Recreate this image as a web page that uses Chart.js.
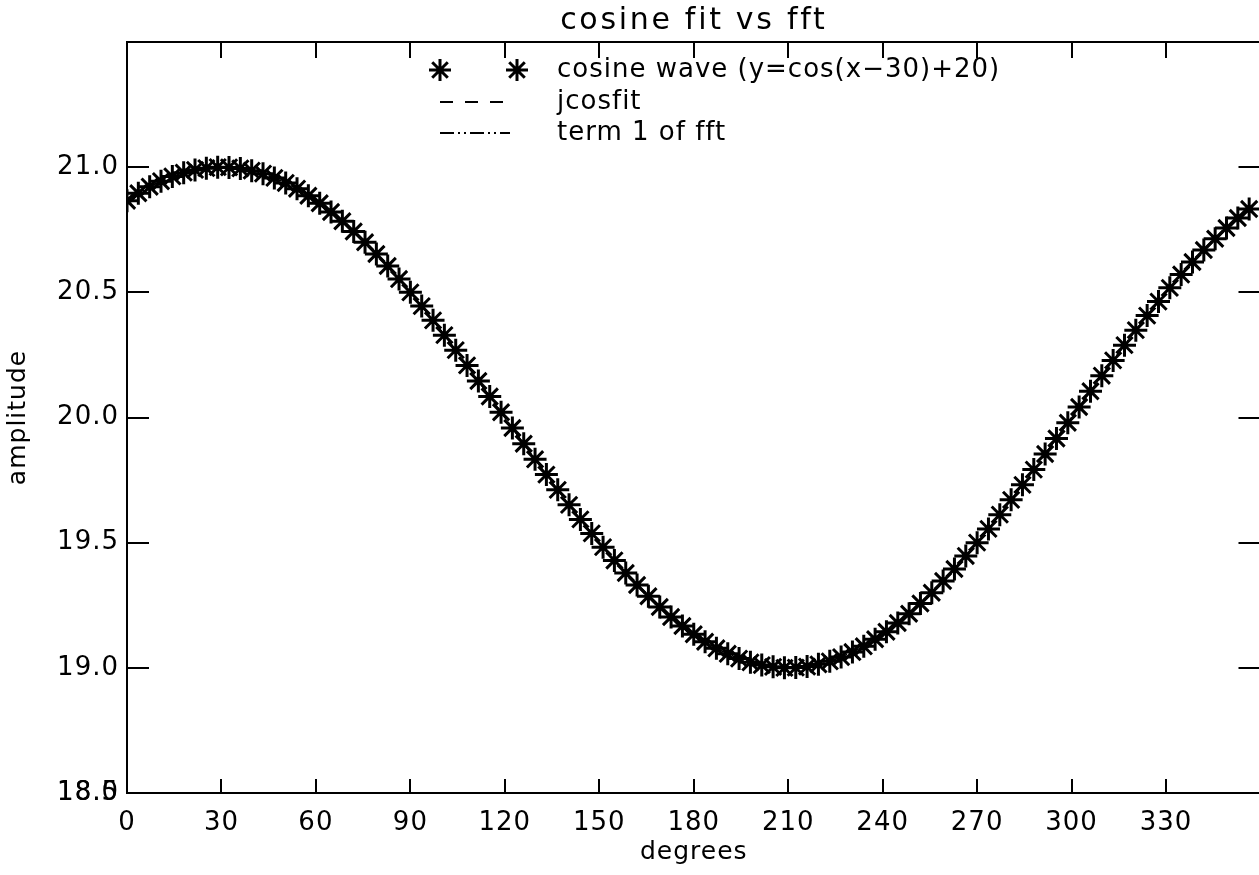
<!DOCTYPE html>
<html>
<head>
<meta charset="utf-8">
<title>cosine fit vs fft</title>
<script src="https://cdn.jsdelivr.net/npm/chart.js@4.4.1/dist/chart.umd.min.js"></script>
<style>
  html, body { margin: 0; padding: 0; background: #fff; overflow: hidden; }
  canvas { display: block; }
</style>
</head>
<body>
<canvas id="fitChart" width="1275" height="875"></canvas>
<script>
const chartTitle = 'cosine fit vs fft';
const xTitle = 'degrees';
const yTitle = 'amplitude';

// sample positions (degrees)
const degrees = [
  0, 3.6, 7.2, 10.8, 14.4, 18, 21.6, 25.2, 28.8, 32.4,
  36, 39.6, 43.2, 46.8, 50.4, 54, 57.6, 61.2, 64.8, 68.4,
  72, 75.6, 79.2, 82.8, 86.4, 90, 93.6, 97.2, 100.8, 104.4,
  108, 111.6, 115.2, 118.8, 122.4, 126, 129.6, 133.2, 136.8, 140.4,
  144, 147.6, 151.2, 154.8, 158.4, 162, 165.6, 169.2, 172.8, 176.4,
  180, 183.6, 187.2, 190.8, 194.4, 198, 201.6, 205.2, 208.8, 212.4,
  216, 219.6, 223.2, 226.8, 230.4, 234, 237.6, 241.2, 244.8, 248.4,
  252, 255.6, 259.2, 262.8, 266.4, 270, 273.6, 277.2, 280.8, 284.4,
  288, 291.6, 295.2, 298.8, 302.4, 306, 309.6, 313.2, 316.8, 320.4,
  324, 327.6, 331.2, 334.8, 338.4, 342, 345.6, 349.2, 352.8, 356.4
];

const amplitude = [
  20.866, 20.896, 20.922, 20.944, 20.963, 20.978, 20.989, 20.996, 21.000, 20.999,
  20.995, 20.986, 20.974, 20.957, 20.937, 20.914, 20.886, 20.856, 20.821, 20.784,
  20.743, 20.700, 20.653, 20.605, 20.553, 20.500, 20.445, 20.388, 20.329, 20.269,
  20.208, 20.146, 20.084, 20.021, 19.958, 19.895, 19.833, 19.772, 19.711, 19.651,
  19.593, 19.537, 19.482, 19.429, 19.379, 19.331, 19.286, 19.243, 19.203, 19.167,
  19.134, 19.104, 19.078, 19.056, 19.037, 19.022, 19.011, 19.004, 19.000, 19.001,
  19.005, 19.014, 19.026, 19.043, 19.063, 19.086, 19.114, 19.144, 19.179, 19.216,
  19.257, 19.300, 19.347, 19.395, 19.447, 19.500, 19.555, 19.612, 19.671, 19.731,
  19.792, 19.854, 19.916, 19.979, 20.042, 20.105, 20.167, 20.228, 20.289, 20.349,
  20.407, 20.463, 20.518, 20.571, 20.621, 20.669, 20.714, 20.757, 20.797, 20.833
];

// both fits lie on top of the samples
const jcosfit = amplitude;
const fftTerm1 = amplitude;

const seriesLabels = ['cosine wave (y=cos(x\u221230)+20)', 'jcosfit', 'term 1 of fft'];
const xTickValues = [0, 30, 60, 90, 120, 150, 180, 210, 240, 270, 300, 330];
const yTickValues = [18.5, 19.0, 19.5, 20.0, 20.5, 21.0];

const FONT = 'DejaVu Sans';
const dashStyle = [13, 12];
const dashDotDot = [14, 4, 2, 4, 2, 4];

function toPoints(ys) {
  return degrees.map((d, i) => ({ x: d, y: ys[i] }));
}

const spacingPlugin = {
  id: 'spacing',
  beforeUpdate(chart) { chart.ctx.letterSpacing = '1px'; },
  beforeDraw(chart) { chart.ctx.letterSpacing = '1px'; }
};

const idlFrame = {
  id: 'idlFrame',
  afterDraw(chart) {
    const { ctx, chartArea: a, scales } = chart;
    const x = scales.x, y = scales.y;
    ctx.save();
    ctx.strokeStyle = '#000';
    ctx.lineWidth = 2;
    ctx.setLineDash([]);
    ctx.strokeRect(a.left, a.top, a.right - a.left, a.bottom - a.top);

    // inward ticks on all four sides
    ctx.beginPath();
    xTickValues.forEach(v => {
      if (v === 0) return;
      const px = Math.round(x.getPixelForValue(v));
      ctx.moveTo(px, a.bottom); ctx.lineTo(px, a.bottom - 14);
      ctx.moveTo(px, a.top); ctx.lineTo(px, a.top + 16);
    });
    yTickValues.forEach(v => {
      if (v === 18.5) return;
      const py = Math.round(y.getPixelForValue(v));
      ctx.moveTo(a.left, py); ctx.lineTo(a.left + 22, py);
      ctx.moveTo(a.right, py); ctx.lineTo(a.right - 22, py);
    });
    ctx.stroke();

    // overlapping bottom label
    ctx.fillStyle = '#000';
    ctx.font = '26px "' + FONT + '"';
    ctx.letterSpacing = '1px';
    ctx.textAlign = 'right';
    ctx.textBaseline = 'middle';
    ctx.fillText('18.0', a.left - 8, y.getPixelForValue(18.5));

    // title
    ctx.font = '30px "' + FONT + '"';
    ctx.letterSpacing = '2.7px';
    ctx.textAlign = 'center';
    ctx.fillText(chartTitle, (a.left + a.right) / 2, 21);

    // legend
    const rows = [70, 102, 133];
    ctx.font = '26px "' + FONT + '"';
    ctx.letterSpacing = '1px';
    ctx.textAlign = 'left';
    seriesLabels.forEach((t, i) => ctx.fillText(t, 557, rows[i]));
    const starOpts = { pointStyle: 'star', radius: 11, borderWidth: 3 };
    ctx.lineWidth = 3;
    Chart.helpers.drawPoint(ctx, starOpts, 440, rows[0]);
    Chart.helpers.drawPoint(ctx, starOpts, 517, rows[0]);
    ctx.lineWidth = 2;
    ctx.beginPath();
    ctx.setLineDash(dashStyle);
    ctx.moveTo(440, rows[1]); ctx.lineTo(510, rows[1]);
    ctx.stroke();
    ctx.beginPath();
    ctx.setLineDash(dashDotDot);
    ctx.moveTo(440, rows[2]); ctx.lineTo(510, rows[2]);
    ctx.stroke();
    ctx.restore();
  }
};

const chartConfig = {
  type: 'line',
  data: {
    datasets: [
      {
        label: seriesLabels[0],
        data: toPoints(amplitude),
        showLine: false,
        pointStyle: 'star',
        pointRadius: 11.5,
        pointBorderWidth: 3,
        borderColor: '#000',
        backgroundColor: '#000'
      },
      {
        label: seriesLabels[1],
        data: toPoints(jcosfit),
        borderColor: '#000',
        borderWidth: 1.5,
        borderDash: dashStyle,
        pointRadius: 0,
        tension: 0
      },
      {
        label: seriesLabels[2],
        data: toPoints(fftTerm1),
        borderColor: '#000',
        borderWidth: 1.5,
        borderDash: dashDotDot,
        pointRadius: 0,
        tension: 0
      }
    ]
  },
  options: {
    responsive: false,
    animation: false,
    layout: { padding: { top: 42, right: 0, left: 0, bottom: 0 } },
    plugins: {
      legend: { display: false },
      title: { display: false },
      tooltip: { enabled: false }
    },
    scales: {
      x: {
        type: 'linear',
        min: 0,
        max: 360,
        afterBuildTicks: s => { s.ticks = xTickValues.map(v => ({ value: v })); },
        afterFit: s => { s.height = 82; },
        ticks: {
          color: '#000',
          padding: 15,
          maxRotation: 0,
          font: { family: FONT, size: 26 },
          callback: v => String(v)
        },
        grid: { display: false, drawTicks: false },
        border: { display: false },
        title: {
          display: true,
          text: xTitle,
          color: '#000',
          font: { family: FONT, size: 25 },
          padding: { top: 0, bottom: 8 }
        }
      },
      y: {
        type: 'linear',
        min: 18.5,
        max: 21.5,
        afterBuildTicks: s => { s.ticks = yTickValues.map(v => ({ value: v })); },
        afterFit: s => { s.width = 127; },
        ticks: {
          color: '#000',
          padding: 8,
          font: { family: FONT, size: 26 },
          callback: v => v.toFixed(1)
        },
        grid: { display: false, drawTicks: false },
        border: { display: false },
        title: {
          display: true,
          text: yTitle,
          color: '#000',
          font: { family: FONT, size: 25 },
          padding: { top: 3, bottom: 0 }
        }
      }
    }
  },
  plugins: [spacingPlugin, idlFrame]
};

const ctx = document.getElementById('fitChart').getContext('2d');
const fitChart = new Chart(ctx, chartConfig);
</script>
</body>
</html>
